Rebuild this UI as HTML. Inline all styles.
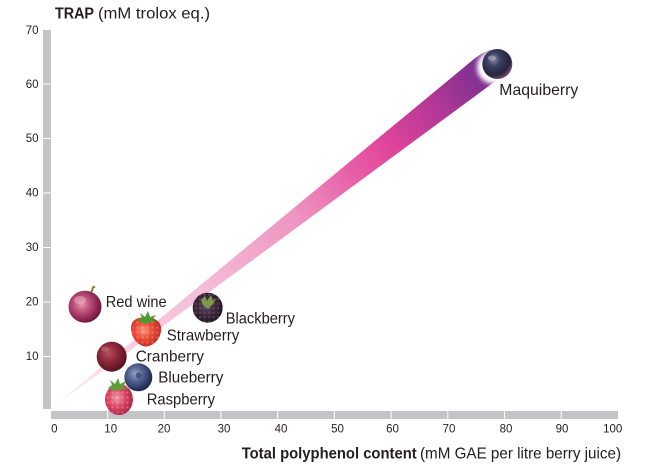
<!DOCTYPE html>
<html>
<head>
<meta charset="utf-8">
<style>
  html,body{margin:0;padding:0;background:#ffffff;}
  svg{display:block;}
  text{font-family:"Liberation Sans",sans-serif;fill:#231f20;}
</style>
</head>
<body>
<svg width="667" height="467" viewBox="0 0 667 467" xmlns="http://www.w3.org/2000/svg">
  <defs>
    <linearGradient id="beam" gradientUnits="userSpaceOnUse" x1="50" y1="409" x2="497" y2="64">
      <stop offset="0" stop-color="#fbe6ef" stop-opacity="0.4"/>
      <stop offset="0.12" stop-color="#f8d6e6"/>
      <stop offset="0.35" stop-color="#f4bcd7"/>
      <stop offset="0.55" stop-color="#ee95c1"/>
      <stop offset="0.68" stop-color="#e85ea6"/>
      <stop offset="0.76" stop-color="#e0449a"/>
      <stop offset="0.87" stop-color="#b23796"/>
      <stop offset="1" stop-color="#6c2f8f"/>
    </linearGradient>
    <radialGradient id="gGrape" cx="40%" cy="42%" r="60%">
      <stop offset="0" stop-color="#e59ab4"/>
      <stop offset="0.35" stop-color="#c25a80"/>
      <stop offset="0.75" stop-color="#952a58"/>
      <stop offset="1" stop-color="#6c1a3c"/>
    </radialGradient>
    <radialGradient id="gStraw" cx="42%" cy="45%" r="60%">
      <stop offset="0" stop-color="#f89a7e"/>
      <stop offset="0.45" stop-color="#ec4e38"/>
      <stop offset="1" stop-color="#c02a22"/>
    </radialGradient>
    <radialGradient id="gCran" cx="40%" cy="38%" r="62%">
      <stop offset="0" stop-color="#b65262"/>
      <stop offset="0.5" stop-color="#8c2639"/>
      <stop offset="1" stop-color="#5a1320"/>
    </radialGradient>
    <radialGradient id="gBlue" cx="40%" cy="38%" r="62%">
      <stop offset="0" stop-color="#9aa6c8"/>
      <stop offset="0.45" stop-color="#50608e"/>
      <stop offset="1" stop-color="#1e2850"/>
    </radialGradient>
    <radialGradient id="gRasp" cx="42%" cy="45%" r="60%">
      <stop offset="0" stop-color="#f39aae"/>
      <stop offset="0.5" stop-color="#dc4766"/>
      <stop offset="1" stop-color="#a82444"/>
    </radialGradient>
    <radialGradient id="gBlack" cx="45%" cy="45%" r="60%">
      <stop offset="0" stop-color="#5e4660"/>
      <stop offset="0.55" stop-color="#3a2539"/>
      <stop offset="1" stop-color="#1e121c"/>
    </radialGradient>
    <radialGradient id="gMaq" cx="38%" cy="35%" r="65%">
      <stop offset="0" stop-color="#8a8aa6"/>
      <stop offset="0.35" stop-color="#3c4062"/>
      <stop offset="0.8" stop-color="#22253e"/>
      <stop offset="1" stop-color="#6a4460"/>
    </radialGradient>
    <filter id="blur" x="-50%" y="-50%" width="200%" height="200%">
      <feGaussianBlur stdDeviation="2.5"/>
    </filter>
    <pattern id="dots" width="5" height="5" patternUnits="userSpaceOnUse">
      <circle cx="2.5" cy="2.5" r="1.1" fill="#ffffff" fill-opacity="0.25"/>
    </pattern>
    <pattern id="dotsDark" width="4.5" height="4.5" patternUnits="userSpaceOnUse">
      <circle cx="2.2" cy="2.2" r="1.2" fill="#7a6a80" fill-opacity="0.45"/>
    </pattern>
  </defs>

  <!-- axes -->
  <rect x="43" y="30" width="8" height="379" fill="#c4c4c6"/>
  <rect x="51" y="411" width="567" height="8" fill="#c4c4c6"/>
  <!-- y ticks -->
  <g stroke="#ffffff" stroke-width="1">
    <line x1="43" y1="84" x2="52" y2="84"/>
    <line x1="43" y1="138.5" x2="52" y2="138.5"/>
    <line x1="43" y1="193" x2="52" y2="193"/>
    <line x1="43" y1="247.5" x2="52" y2="247.5"/>
    <line x1="43" y1="302" x2="52" y2="302"/>
    <line x1="43" y1="356.5" x2="52" y2="356.5"/>
  </g>
  <!-- x ticks -->
  <g stroke="#ffffff" stroke-width="1">
    <line x1="107.6" y1="411" x2="107.6" y2="419"/>
    <line x1="164.3" y1="411" x2="164.3" y2="419"/>
    <line x1="221" y1="411" x2="221" y2="419"/>
    <line x1="277.7" y1="411" x2="277.7" y2="419"/>
    <line x1="334.4" y1="411" x2="334.4" y2="419"/>
    <line x1="391.1" y1="411" x2="391.1" y2="419"/>
    <line x1="447.8" y1="411" x2="447.8" y2="419"/>
    <line x1="504.5" y1="411" x2="504.5" y2="419"/>
    <line x1="561.2" y1="411" x2="561.2" y2="419"/>
  </g>

  <!-- y tick labels -->
  <g font-size="11.5" text-anchor="end">
    <text x="38.5" y="34">70</text>
    <text x="38.5" y="88">60</text>
    <text x="38.5" y="142">50</text>
    <text x="38.5" y="196.5">40</text>
    <text x="38.5" y="251">30</text>
    <text x="38.5" y="305.5">20</text>
    <text x="38.5" y="360">10</text>
  </g>
  <!-- x tick labels -->
  <g font-size="11.5" text-anchor="middle">
    <text x="54.3" y="432.5">0</text>
    <text x="110.7" y="432.5">10</text>
    <text x="164" y="432.5">20</text>
    <text x="224" y="432.5">30</text>
    <text x="281" y="432.5">40</text>
    <text x="337.5" y="432.5">50</text>
    <text x="392.5" y="432.5">60</text>
    <text x="449" y="432.5">70</text>
    <text x="506" y="432.5">80</text>
    <text x="562" y="432.5">90</text>
    <text x="612.7" y="432.5">100</text>
  </g>

  <!-- axis titles -->
  <text x="55" y="18.5" font-size="15.5" font-weight="bold" textLength="39" lengthAdjust="spacingAndGlyphs">TRAP</text>
  <text x="98" y="18.5" font-size="15.5" textLength="112" lengthAdjust="spacingAndGlyphs">(mM trolox eq.)</text>
  <text x="241.7" y="458.3" font-size="16" font-weight="bold" textLength="175" lengthAdjust="spacingAndGlyphs">Total polyphenol content</text>
  <text x="420" y="458.3" font-size="16" textLength="201" lengthAdjust="spacingAndGlyphs">(mM GAE per litre berry juice)</text>

  <!-- beam -->
  <polygon points="50,409.5 474,59 481,54 490,50 500,52 504,60 503,70 497,80 50,409.5" fill="url(#beam)"/>

  <!-- maquiberry -->
  <circle cx="494" cy="67" r="17" fill="#ffffff" filter="url(#blur)"/>
  <circle cx="497.3" cy="64" r="15" fill="url(#gMaq)"/>
  <ellipse cx="492" cy="58" rx="4" ry="2.5" fill="#b8b8cc" fill-opacity="0.5"/>

  <!-- red wine grape -->
  <ellipse cx="85" cy="306.7" rx="16.5" ry="16" fill="url(#gGrape)"/>
  <ellipse cx="80" cy="300" rx="6" ry="4" fill="#f2b9cb" fill-opacity="0.45"/>
  <path d="M91.5,292 L93,287.5 L95,286.5" stroke="#8a7a2e" stroke-width="2" fill="none"/>

  <!-- blackberry -->
  <circle cx="207.7" cy="307.7" r="15" fill="url(#gBlack)"/>
  <circle cx="207.7" cy="307.7" r="15" fill="url(#dotsDark)"/>
  <path d="M201,300 L205,296 L207,301 L211,295 L213,301 L217,298 L212,305 L208,309 L203,305 Z" fill="#7e9a4a"/>

  <!-- strawberry -->
  <path d="M131,328 C131,319 139,317 147,317.5 C156,318 162,322 161,331 C160,340 153,346 146,346.5 C138,346 131,338 131,328 Z" fill="url(#gStraw)"/>
  <circle cx="146" cy="331.5" r="14" fill="url(#dots)"/>
  <path d="M137,320 L142,318 L140,313 L145,317 L148,311 L150,317 L156,315 L152,320 L158,322 L150,322 L145,324 L141,322 Z" fill="#4e9a2e"/>

  <!-- cranberry -->
  <circle cx="111.7" cy="356.7" r="15" fill="url(#gCran)"/>
  <ellipse cx="105" cy="349" rx="4" ry="2.5" fill="#d08090" fill-opacity="0.45"/>

  <!-- blueberry -->
  <circle cx="138.3" cy="377.3" r="14" fill="url(#gBlue)"/>
  <circle cx="138.5" cy="375.5" r="3" fill="#2a3460" fill-opacity="0.6"/>

  <!-- raspberry -->
  <ellipse cx="119" cy="399.5" rx="14" ry="15.5" fill="url(#gRasp)"/>
  <ellipse cx="119" cy="399.5" rx="14" ry="15.5" fill="url(#dots)"/>
  <path d="M108,388 L112,385 L110,380 L115,384 L118,378 L120,384 L126,381 L123,387 L129,389 L121,389 L115,391 Z" fill="#5e9e34"/>

  <!-- fruit labels -->
  <g font-size="16">
    <text x="105.7" y="307" textLength="61" lengthAdjust="spacingAndGlyphs">Red wine</text>
    <text x="225.7" y="323.5" textLength="69.3" lengthAdjust="spacingAndGlyphs">Blackberry</text>
    <text x="166.7" y="340.5" textLength="72.6" lengthAdjust="spacingAndGlyphs">Strawberry</text>
    <text x="135.7" y="361.5" textLength="68.3" lengthAdjust="spacingAndGlyphs">Cranberry</text>
    <text x="158.3" y="382.5" textLength="65" lengthAdjust="spacingAndGlyphs">Blueberry</text>
    <text x="146.7" y="404.5" textLength="68.3" lengthAdjust="spacingAndGlyphs">Raspberry</text>
    <text x="499.3" y="95" textLength="79" lengthAdjust="spacingAndGlyphs">Maquiberry</text>
  </g>
</svg>
</body>
</html>
